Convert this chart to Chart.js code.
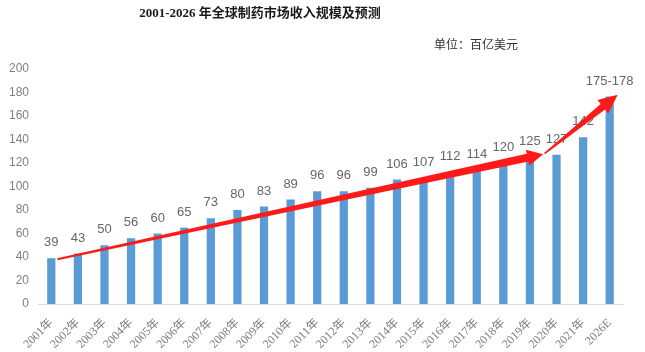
<!DOCTYPE html>
<html lang="zh">
<head>
  <meta charset="UTF-8">
  <title>2001-2026 年全球制药市场收入规模及预测</title>
  <script src="https://cdn.jsdelivr.net/npm/chart.js"></script>
  <style>
    body { margin: 0; padding: 0; background: #fff; }
    #wrap { width: 645px; height: 352px; position: relative; }
  </style>
</head>
<body>
  <div id="wrap"><canvas id="pharmaChart"></canvas></div>

  <script>
    // chart data
    const years = ["2001年", "2002年", "2003年", "2004年", "2005年", "2006年", "2007年", "2008年",
      "2009年", "2010年", "2011年", "2012年", "2013年", "2014年", "2015年", "2016年",
      "2017年", "2018年", "2019年", "2020年", "2021年", "2026E"];
    const revenue = [39, 43, 50, 56, 60, 65, 73, 80, 83, 89, 96, 96, 99, 106, 107, 112,
      114, 120, 125, 127, 142, 176.5];
    const valueLabels = ["39", "43", "50", "56", "60", "65", "73", "80", "83", "89", "96", "96",
      "99", "106", "107", "112", "114", "120", "125", "127", "142", "175-178"];

    // trend arrows, in data units: [categoryIndex, value]
    const arrow1 = { from: [0.23, 38], to: [18.5, 127.5] };
    const arrow2 = { from: [18.55, 128], to: [21.3, 178] };

    const titleText = "2001-2026 年全球制药市场收入规模及预测";
    const unitText = "单位：百亿美元";

    // bar value labels
    const valueLabelPlugin = {
      id: "valueLabels",
      afterDatasetsDraw(chart) {
        const ctx = chart.ctx;
        const meta = chart.getDatasetMeta(0);
        ctx.save();
        ctx.font = "13px 'Liberation Sans', Arial, sans-serif";
        ctx.fillStyle = "#666666";
        ctx.textAlign = "center";
        ctx.textBaseline = "bottom";
        meta.data.forEach((bar, i) => {
          ctx.fillText(valueLabels[i], bar.x, bar.y - 9);
        });
        ctx.restore();
      }
    };

    // tapered red arrow
    function drawArrow(chart, a, w0, w1, headLen, headW) {
      const xs = chart.scales.x, ys = chart.scales.y;
      const x0 = xs.getPixelForValue(a.from[0]), y0 = ys.getPixelForValue(a.from[1]);
      const x1 = xs.getPixelForValue(a.to[0]), y1 = ys.getPixelForValue(a.to[1]);
      const dx = x1 - x0, dy = y1 - y0;
      const len = Math.sqrt(dx * dx + dy * dy);
      const ux = dx / len, uy = dy / len;
      const nx = -uy, ny = ux;
      const bx = x1 - ux * headLen, by = y1 - uy * headLen;
      const ctx = chart.ctx;
      ctx.save();
      ctx.fillStyle = "#ff1a1a";
      ctx.beginPath();
      ctx.moveTo(x0 + nx * w0 / 2, y0 + ny * w0 / 2);
      ctx.lineTo(bx + nx * w1 / 2, by + ny * w1 / 2);
      ctx.lineTo(bx + nx * headW / 2, by + ny * headW / 2);
      ctx.lineTo(x1, y1);
      ctx.lineTo(bx - nx * headW / 2, by - ny * headW / 2);
      ctx.lineTo(bx - nx * w1 / 2, by - ny * w1 / 2);
      ctx.lineTo(x0 - nx * w0 / 2, y0 - ny * w0 / 2);
      ctx.closePath();
      ctx.fill();
      ctx.restore();
    }

    const overlayPlugin = {
      id: "overlay",
      afterDraw(chart) {
        drawArrow(chart, arrow1, 2, 8, 16, 16);
        drawArrow(chart, arrow2, 1.5, 7, 19, 17);

        const ctx = chart.ctx;
        ctx.save();
        ctx.fillStyle = "#1a1a1a";
        ctx.textBaseline = "middle";
        ctx.textAlign = "center";
        ctx.font = "bold 13px 'Liberation Serif', 'Noto Sans CJK SC', serif";
        ctx.fillText(titleText, 260, 14);
        ctx.textAlign = "right";
        ctx.font = "12px 'Noto Sans CJK SC', serif";
        ctx.fillStyle = "#333333";
        ctx.fillText(unitText, 518, 44);
        ctx.restore();
      }
    };

    const ctx = document.getElementById("pharmaChart").getContext("2d");
    new Chart(ctx, {
      type: "bar",
      data: {
        labels: years,
        datasets: [{
          data: revenue,
          backgroundColor: "#5b9bd5",
          categoryPercentage: 1,
          barPercentage: 0.31
        }]
      },
      options: {
        responsive: true,
        maintainAspectRatio: false,
        animation: false,
        layout: { padding: { top: 69, right: 22, bottom: 0, left: 6 } },
        plugins: {
          legend: { display: false },
          tooltip: { enabled: false }
        },
        scales: {
          x: {
            grid: { display: false },
            border: { color: "#d9d9d9", width: 1 },
            // rotated labels may hang past the left edge, like the original
            afterFit(scale) { scale.paddingLeft = 0; scale.height = 48; },
            ticks: {
              color: "#7f7f7f",
              font: { size: 12, family: "'Liberation Serif', 'Noto Sans CJK SC', serif" },
              maxRotation: 45,
              minRotation: 45,
              autoSkip: false,
              padding: 4
            }
          },
          y: {
            min: 0,
            max: 200,
            afterFit(scale) { scale.width = 32; },
            grid: { display: false, drawTicks: false },
            border: { display: false },
            ticks: {
              stepSize: 20,
              color: "#7f7f7f",
              font: { size: 12, family: "'Liberation Sans', Arial, sans-serif" },
              padding: 9
            }
          }
        }
      },
      plugins: [valueLabelPlugin, overlayPlugin]
    });
  </script>
</body>
</html>
